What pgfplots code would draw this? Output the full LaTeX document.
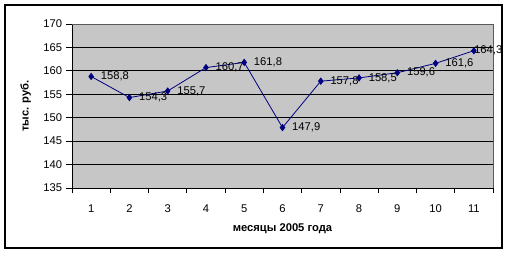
\documentclass[border=0pt]{standalone}
\usepackage{pgfplots}
\pgfplotsset{compat=1.18}
\usepackage{fontspec}
\setmainfont{Liberation Sans}
\definecolor{navyline}{RGB}{0,0,128}
\definecolor{plotbg}{RGB}{198,198,198}
\begin{document}
\begin{tikzpicture}
\fontsize{8.4pt}{10pt}\selectfont
\path[use as bounding box] (0,0) rectangle (381pt,190.5pt);
\draw[line width=1pt] (3.75pt,4.5pt) rectangle (376.5pt,186.75pt);
\begin{axis}[
  at={(54pt,49.5pt)}, anchor=south west,
  scale only axis, width=315.75pt, height=123pt,
  xmin=0.5, xmax=11.5, ymin=135, ymax=170,
  axis background/.style={fill=plotbg},
  axis x line*=bottom, axis y line*=left,
  axis line style={black, line width=0.6pt, -},
  xtick={1,...,11},
  xtick style={draw=none},
  ytick={135,140,...,170},
  tick align=outside,
  major tick length=4.5pt,
  ytick style={black, line width=0.6pt},
  extra x ticks={0.5,1.5,...,11.5},
  extra x tick labels={},
  extra x tick style={xtick style={black, line width=0.6pt, draw=black}, major tick length=4pt, grid=none},
  ymajorgrids,
  grid style={black, line width=0.6pt},
  /pgf/number format/assume math mode=true,
  ticklabel style={font=\fontsize{8.4pt}{10pt}\selectfont},
  xticklabel style={yshift=-5pt},
  xlabel={\bfseries месяцы 2005 года},
  ylabel={\bfseries тыс. руб.},
  xlabel style={at={(axis description cs:0.5,-0.25)}, anchor=center, font=\fontsize{8.4pt}{10pt}\selectfont},
  ylabel style={at={(axis description cs:-0.11,0.5)}, anchor=center, font=\fontsize{8.4pt}{10pt}\selectfont},
  clip=false,
]
\draw[gray!70!black, line width=0.5pt] (rel axis cs:0,1) -- (rel axis cs:1,1) -- (rel axis cs:1,0);
\addplot[navyline, line width=0.6pt, mark=diamond*, mark size=2.3pt, mark options={fill=navyline, draw=navyline},
  nodes near coords, point meta=explicit symbolic,
  every node near coord/.style={anchor=west, xshift=4.2pt, black, font=\fontsize{8.4pt}{10pt}\selectfont}]
  table[meta=lab] {
x y lab
1 158.8 {158,8}
2 154.3 {154,3}
3 155.7 {155,7}
4 160.7 {160,7}
5 161.8 {161,8}
6 147.9 {147,9}
7 157.8 {157,8}
8 158.5 {158,5}
9 159.6 {159,6}
10 161.6 {161,6}
11 164.3 {\kern-7pt164,3}
};
\end{axis}
\end{tikzpicture}
\end{document}
